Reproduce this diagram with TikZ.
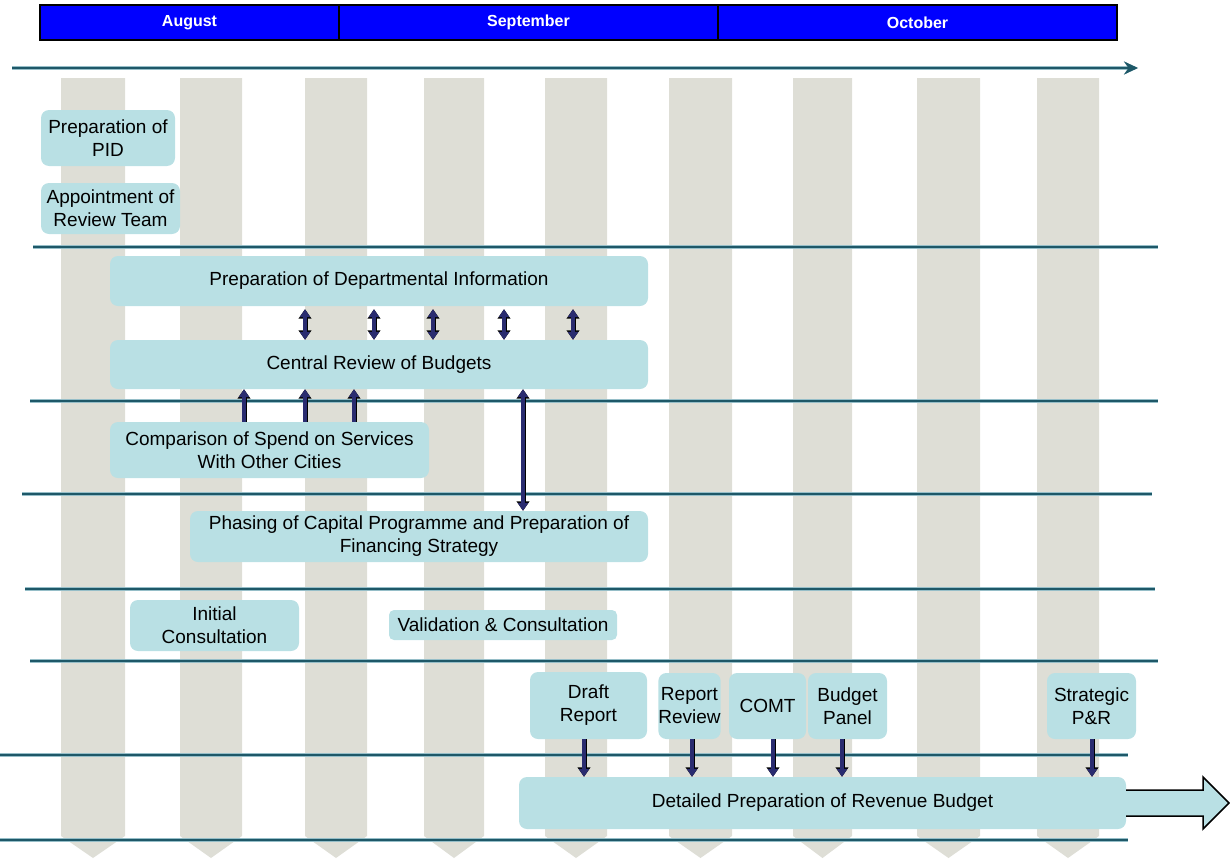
\documentclass[tikz,border=0pt]{standalone}
\usepackage{fontspec}
\setmainfont{Liberation Sans}
\usetikzlibrary{arrows.meta}
\definecolor{boxc}{RGB}{185,224,228}
\definecolor{colc}{RGB}{222,222,214}
\definecolor{linec}{RGB}{30,88,104}
\definecolor{haloc}{RGB}{150,190,200}
\definecolor{navy}{RGB}{42,44,112}
\definecolor{hdrblue}{RGB}{0,0,255}
\tikzset{
  box/.style={fill=boxc, rounded corners=8pt, align=center, inner sep=2pt,
              font=\fontsize{19}{23}\selectfont, text=black},
  hdr/.style={fill=hdrblue, draw=black, line width=1.5pt, text=white,
              font=\fontsize{16}{18}\selectfont\bfseries, minimum height=35pt, inner sep=0pt},
  hline/.style={draw=linec, line width=2pt, preaction={draw=haloc, line width=3.6pt}},
  col/.style={fill=colc, draw=none},
  arr/.style={draw=navy, line width=3.4pt, -{Triangle[length=8pt,width=10pt]},
              preaction={draw=black, line width=5pt, -{Triangle[length=9.5pt,width=12.5pt]}}},
  darr/.style={draw=navy, line width=3.4pt, {Triangle[length=8pt,width=10pt]}-{Triangle[length=8pt,width=10pt]},
              preaction={draw=black, line width=5pt, {Triangle[length=9.5pt,width=12.5pt]}-{Triangle[length=9.5pt,width=12.5pt]}}},
}
\begin{document}
\begin{tikzpicture}[x=1pt, y=-1pt]
\useasboundingbox (0,0) rectangle (1230,859);
% grey columns
\foreach \a/\b in {61/125,180/242,305/367,424/484,545/607,669/732,793/852,917/980,1037/1099}{
  \path[col] (\a,78) -- (\b,78) -- (\b,836) -- ({(\a+\b)/2},858) -- (\a,836) -- cycle;
}
% header
\node[hdr, minimum width=299pt] (aug) at (189.5,22.5) {August};
\node[hdr, minimum width=379pt] (sep) at (528.5,22.5) {September};
\node[hdr, minimum width=399pt] (oct) at (917.5,22.5) {October};
% time axis
\draw[hline, -{Stealth[length=14pt,width=13pt]}] (12,68) -- (1138,68);
% horizontal rules
\draw[hline] (33,247) -- (1158,247);
\draw[hline] (30,401) -- (1158,401);
\draw[hline] (22,494) -- (1152,494);
\draw[hline] (25,589) -- (1155,589);
\draw[hline] (30,661) -- (1158,661);
\draw[hline] (0,755) -- (1128,755);
\draw[hline] (0,840) -- (1128,840);
% boxes
\node[box, minimum width=134pt, minimum height=56pt] (pid) at (108,138) {Preparation of\\PID};
\node[box, minimum width=139pt, minimum height=51pt] (appt) at (110.5,208.5) {Appointment of\\Review Team};
\node[box, minimum width=538pt, minimum height=50pt] (dept) at (379,281) {Preparation of Departmental Information};
\node[box, minimum width=538pt, minimum height=49pt] (central) at (379,364.5) {Central Review of Budgets};
\node[box, minimum width=319pt, minimum height=56pt] (comp) at (269.5,450) {Comparison of Spend on Services\\With Other Cities};
\node[box, minimum width=458pt, minimum height=51pt] (phase) at (419,536.5) {Phasing of Capital Programme and Preparation of\\Financing Strategy};
\node[box, minimum width=169pt, minimum height=51pt] (init) at (214.5,625.5) {Initial\\Consultation};
\node[box, minimum width=228pt, minimum height=30pt, rounded corners=5pt] (valid) at (503,625) {Validation \& Consultation};
\node[box, minimum width=117pt, minimum height=67pt] (draft) at (588.5,705.5) {Draft\\Report};
\node[box, minimum width=61pt, minimum height=66pt, inner sep=0pt] (review) at (689.5,706) {Report\\Review};
\node[box, minimum width=77pt, minimum height=66pt] (comt) at (767.5,706) {COMT};
\node[box, minimum width=79pt, minimum height=66pt] (budget) at (847.5,706) {Budget\\Panel};
\node[box, minimum width=89pt, minimum height=66pt] (strat) at (1091.5,706) {Strategic\\P\&R};
\node[box, minimum width=607pt, minimum height=52pt] (detail) at (822.5,803) {Detailed Preparation of Revenue Budget};
% big outgoing arrow
\draw[fill=boxc, draw=black, line width=1.5pt] (detail.east |- 0,790) -- (1203,790) -- (1203,777) -- (1229,803) -- (1203,829) -- (1203,816) -- (detail.east |- 0,816);
% connectors dept <-> central
\foreach \x in {305,374,433,504,573}{
  \draw[darr] (\x,0 |- dept.south) ++(0,3) -- (\x,0 |- central.north);
}
% comparison -> central
\foreach \x in {244,305,354}{
  \draw[arr] (\x,0 |- comp.north) -- (\x,0 |- central.south);
}
% central <-> phasing
\draw[darr] (523,0 |- central.south) -- (523,0 |- phase.north);
% down arrows into detailed
\draw[arr] (584,0 |- draft.south) -- (584,0 |- detail.north);
\draw[arr] (692,0 |- review.south) -- (692,0 |- detail.north);
\draw[arr] (773,0 |- comt.south) -- (773,0 |- detail.north);
\draw[arr] (842,0 |- budget.south) -- (842,0 |- detail.north);
\draw[arr] (1092,0 |- strat.south) -- (1092,0 |- detail.north);
\end{tikzpicture}
\end{document}
